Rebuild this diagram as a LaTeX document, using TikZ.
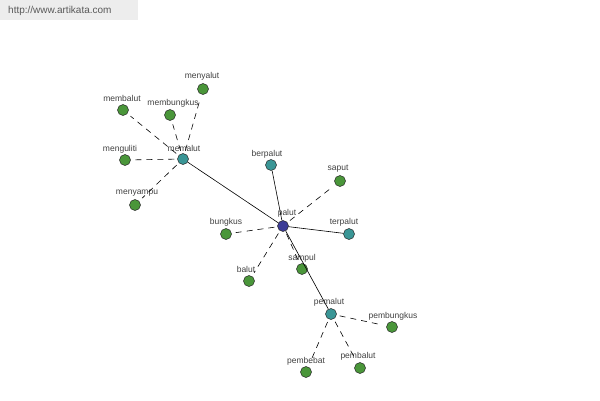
\documentclass[tikz,border=0pt]{standalone}
\usepackage{fontspec}
\setmainfont{Liberation Sans}
\begin{document}
\begin{tikzpicture}[x=1pt,y=-1pt,
  vtx/.style={circle,draw=black!85,line width=0.5pt,minimum size=11pt,inner sep=0pt},
  gr/.style={vtx,fill=leafgreen},
  tl/.style={vtx,fill=hubteal},
  bl/.style={vtx,fill=rootblue},
  lbl/.style={font=\fontsize{8.5}{9}\selectfont,text=black!75,inner sep=0pt},
  solid edge/.style={draw=black,line width=0.6pt},
  dash edge/.style={draw=black,line width=0.6pt,dash pattern=on 6pt off 5pt,shorten >=4pt,shorten <=3pt}]
\definecolor{leafgreen}{RGB}{74,150,58}
\definecolor{hubteal}{RGB}{58,150,150}
\definecolor{rootblue}{RGB}{60,60,150}
\useasboundingbox (0,0) rectangle (600,400);
\fill[black!7] (0,0) rectangle (138,20);
\node[font=\fontsize{10}{11}\selectfont,text=black!65,anchor=west,inner sep=0pt] (wm) at (8,11) {http://www.artikata.com};
% nodes
\node[tl] (memalut) at (183,159) {};
\node[gr] (menyalut) at (203,89) {};
\node[gr] (membalut) at (123,110) {};
\node[gr] (membungkus) at (170,115) {};
\node[gr] (menguliti) at (125,160) {};
\node[gr] (menyampu) at (135,205) {};
\node[bl] (palut) at (283,226) {};
\node[tl] (berpalut) at (271,165) {};
\node[gr] (saput) at (340,181) {};
\node[tl] (terpalut) at (349,234) {};
\node[gr] (bungkus) at (226,234) {};
\node[gr] (balut) at (249,281) {};
\node[gr] (sampul) at (302,269) {};
\node[tl] (pemalut) at (331,314) {};
\node[gr] (pembungkus) at (392,327) {};
\node[gr] (pembebat) at (306,372) {};
\node[gr] (pembalut) at (360,368) {};
% labels
\node[lbl] (l-memalut) at (184,148) {memalut};
\node[lbl] (l-menyalut) at (202,76) {menyalut};
\node[lbl] (l-membalut) at (122,98) {membalut};
\node[lbl] (l-membungkus) at (173,103) {membungkus};
\node[lbl] (l-menguliti) at (120,149) {menguliti};
\node[lbl] (l-menyampu) at (137,193) {menyampu};
\node[lbl] (l-palut) at (287,213) {palut};
\node[lbl] (l-berpalut) at (267,154) {berpalut};
\node[lbl] (l-saput) at (338,169) {saput};
\node[lbl] (l-terpalut) at (344,222) {terpalut};
\node[lbl] (l-bungkus) at (226,222) {bungkus};
\node[lbl] (l-balut) at (246,269) {balut};
\node[lbl] (l-sampul) at (302,258) {sampul};
\node[lbl] (l-pemalut) at (329,302) {pemalut};
\node[lbl] (l-pembungkus) at (393,316) {pembungkus};
\node[lbl] (l-pembebat) at (306,361) {pembebat};
\node[lbl] (l-pembalut) at (358,356) {pembalut};
% edges
\draw[solid edge] (memalut) -- (palut);
\draw[solid edge] (palut) -- (berpalut);
\draw[solid edge] (palut) -- (terpalut);
\draw[solid edge] (palut) -- (pemalut);
\foreach \t in {menyalut,membalut,membungkus,menguliti,menyampu}
  \draw[dash edge] (memalut) -- (\t);
\foreach \t in {saput,bungkus,balut,sampul}
  \draw[dash edge] (palut) -- (\t);
\foreach \t in {pembungkus,pembebat,pembalut}
  \draw[dash edge] (pemalut) -- (\t);
\end{tikzpicture}
\end{document}
